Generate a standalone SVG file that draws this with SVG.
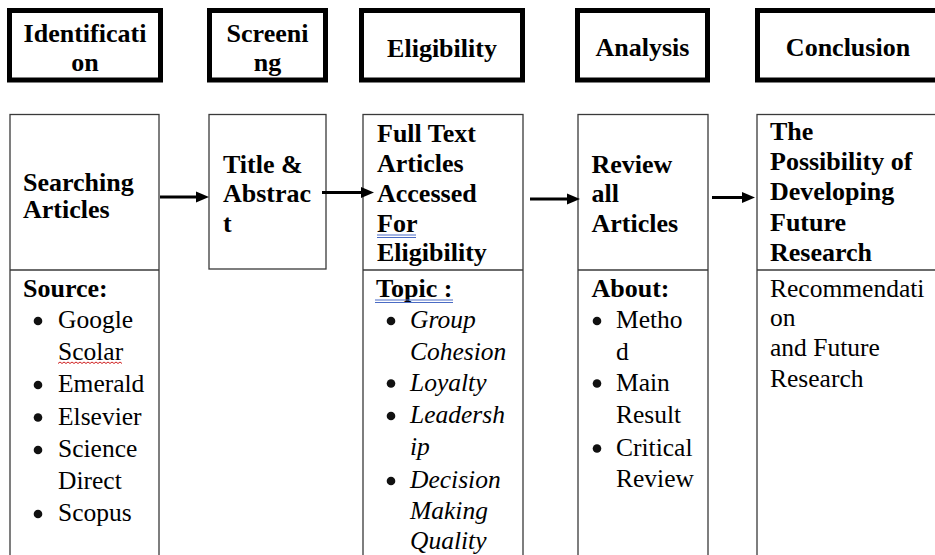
<svg xmlns="http://www.w3.org/2000/svg" width="935" height="555" viewBox="0 0 935 555">
<style>
svg text, g text, text{font-family:'Liberation Serif','Times New Roman',serif !important}
.hdr{fill:#fff;stroke:#000;stroke-width:5}
.box{fill:#fff;stroke:#3a3a3a;stroke-width:1.3}
.div{stroke:#3a3a3a;stroke-width:1.3}
.dot{fill:#111}
.arr{stroke:#000;stroke-width:3;fill:none}
.ah{fill:#000}
.blu{stroke:#4a6bc4;stroke-width:1;fill:none}
.red{stroke:#d02020;stroke-width:1;fill:none}
</style>
<rect width="935" height="555" fill="#fff"/>

<g id="h-identification">
<rect class="hdr" x="9.5" y="10.5" width="151" height="69.5"/>
<text style="font-family:'Liberation Serif',serif;font-size:26px;font-weight:bold" text-anchor="middle" x="85" y="42">Identificati</text>
<text style="font-family:'Liberation Serif',serif;font-size:26px;font-weight:bold" text-anchor="middle" x="85" y="71">on</text>
</g>
<g id="h-screening">
<rect class="hdr" x="209.5" y="10.5" width="116" height="69.5"/>
<text style="font-family:'Liberation Serif',serif;font-size:26px;font-weight:bold" text-anchor="middle" x="267.5" y="42">Screeni</text>
<text style="font-family:'Liberation Serif',serif;font-size:26px;font-weight:bold" text-anchor="middle" x="267.5" y="71">ng</text>
</g>
<g id="h-eligibility">
<rect class="hdr" x="361.5" y="10.5" width="161" height="69.5"/>
<text style="font-family:'Liberation Serif',serif;font-size:26px;font-weight:bold" text-anchor="middle" x="442" y="57">Eligibility</text>
</g>
<g id="h-analysis">
<rect class="hdr" x="577.5" y="10.5" width="130" height="69.5"/>
<text style="font-family:'Liberation Serif',serif;font-size:26px;font-weight:bold" text-anchor="middle" x="642.5" y="56">Analysis</text>
</g>
<g id="h-conclusion">
<rect class="hdr" x="757.5" y="10.5" width="190" height="69.5"/>
<text style="font-family:'Liberation Serif',serif;font-size:26px;font-weight:bold" text-anchor="middle" x="848" y="56">Conclusion</text>
</g>

<g id="n-searching">
<rect class="box" x="10" y="114.5" width="149" height="460"/>
<line class="div" x1="10" y1="270" x2="159" y2="270"/>
<text style="font-family:'Liberation Serif',serif;font-size:26px;font-weight:bold" x="23" y="191">Searching</text>
<text style="font-family:'Liberation Serif',serif;font-size:26px;font-weight:bold" x="23" y="217.5">Articles</text>
<text style="font-family:'Liberation Serif',serif;font-size:26px;font-weight:bold" x="23" y="296.5">Source:</text>
<circle class="dot" cx="38" cy="321" r="4.3"/>
<text style="font-family:'Liberation Serif',serif;font-size:25.5px" x="58" y="328">Google</text>
<text style="font-family:'Liberation Serif',serif;font-size:25.5px" x="58" y="359.5">Scolar</text>
<path class="red" d="M58,363.5 l2,-1.5 l2,1.5 l2,-1.5 l2,1.5 l2,-1.5 l2,1.5 l2,-1.5 l2,1.5 l2,-1.5 l2,1.5 l2,-1.5 l2,1.5 l2,-1.5 l2,1.5 l2,-1.5 l2,1.5 l2,-1.5 l2,1.5 l2,-1.5 l2,1.5 l2,-1.5 l2,1.5 l2,-1.5 l2,1.5 l2,-1.5 l2,1.5 l2,-1.5 l2,1.5 l2,-1.5 l2,1.5 l2,-1.5 l2,1.5"/>
<circle class="dot" cx="38" cy="385" r="4.3"/>
<text style="font-family:'Liberation Serif',serif;font-size:25.5px" x="58" y="392">Emerald</text>
<circle class="dot" cx="38" cy="417.5" r="4.3"/>
<text style="font-family:'Liberation Serif',serif;font-size:25.5px" x="58" y="424.5">Elsevier</text>
<circle class="dot" cx="38" cy="450" r="4.3"/>
<text style="font-family:'Liberation Serif',serif;font-size:25.5px" x="58" y="457">Science</text>
<text style="font-family:'Liberation Serif',serif;font-size:25.5px" x="58" y="489">Direct</text>
<circle class="dot" cx="38" cy="514" r="4.3"/>
<text style="font-family:'Liberation Serif',serif;font-size:25.5px" x="58" y="521">Scopus</text>
</g>

<g id="n-title">
<rect class="box" x="209" y="114.5" width="117" height="154.5"/>
<text style="font-family:'Liberation Serif',serif;font-size:26px;font-weight:bold" x="223" y="173">Title &amp;</text>
<text style="font-family:'Liberation Serif',serif;font-size:26px;font-weight:bold" x="223" y="202">Abstrac</text>
<text style="font-family:'Liberation Serif',serif;font-size:26px;font-weight:bold" x="223" y="231.5">t</text>
</g>

<g id="n-fulltext">
<rect class="box" x="363" y="114.5" width="160" height="460"/>
<line class="div" x1="363" y1="270" x2="523" y2="270"/>
<text style="font-family:'Liberation Serif',serif;font-size:26px;font-weight:bold" x="377" y="141.5">Full Text</text>
<text style="font-family:'Liberation Serif',serif;font-size:26px;font-weight:bold" x="377" y="171.5">Articles</text>
<text style="font-family:'Liberation Serif',serif;font-size:26px;font-weight:bold" x="377" y="201.5">Accessed</text>
<text style="font-family:'Liberation Serif',serif;font-size:26px;font-weight:bold" x="377" y="231.5">For</text>
<path class="blu" d="M377,235 H416 M377,237.5 H416"/>
<text style="font-family:'Liberation Serif',serif;font-size:26px;font-weight:bold" x="377" y="260.5">Eligibility</text>
<text style="font-family:'Liberation Serif',serif;font-size:26px;font-weight:bold" x="376" y="296.5">Topic :</text>
<path class="blu" d="M375,300 H453 M375,302.5 H453"/>
<circle class="dot" cx="391" cy="321" r="4.3"/>
<text style="font-family:'Liberation Serif',serif;font-size:25.5px;font-style:italic" x="410" y="328">Group</text>
<text style="font-family:'Liberation Serif',serif;font-size:25.5px;font-style:italic" x="410" y="360">Cohesion</text>
<circle class="dot" cx="391" cy="383.5" r="4.3"/>
<text style="font-family:'Liberation Serif',serif;font-size:25.5px;font-style:italic" x="410" y="390.5">Loyalty</text>
<circle class="dot" cx="391" cy="416" r="4.3"/>
<text style="font-family:'Liberation Serif',serif;font-size:25.5px;font-style:italic" x="410" y="423">Leadersh</text>
<text style="font-family:'Liberation Serif',serif;font-size:25.5px;font-style:italic" x="410" y="455">ip</text>
<circle class="dot" cx="391" cy="481" r="4.3"/>
<text style="font-family:'Liberation Serif',serif;font-size:25.5px;font-style:italic" x="410" y="488">Decision</text>
<text style="font-family:'Liberation Serif',serif;font-size:25.5px;font-style:italic" x="410" y="518.5">Making</text>
<text style="font-family:'Liberation Serif',serif;font-size:25.5px;font-style:italic" x="410" y="548.5">Quality</text>
</g>

<g id="n-review">
<rect class="box" x="578" y="114.5" width="130" height="460"/>
<line class="div" x1="578" y1="270" x2="708" y2="270"/>
<text style="font-family:'Liberation Serif',serif;font-size:26px;font-weight:bold" x="591.5" y="173">Review</text>
<text style="font-family:'Liberation Serif',serif;font-size:26px;font-weight:bold" x="591.5" y="202">all</text>
<text style="font-family:'Liberation Serif',serif;font-size:26px;font-weight:bold" x="591.5" y="231.5">Articles</text>
<text style="font-family:'Liberation Serif',serif;font-size:26px;font-weight:bold" x="591.5" y="296.5">About:</text>
<circle class="dot" cx="597" cy="321" r="4.3"/>
<text style="font-family:'Liberation Serif',serif;font-size:25.5px" x="616" y="328">Metho</text>
<text style="font-family:'Liberation Serif',serif;font-size:25.5px" x="616" y="360">d</text>
<circle class="dot" cx="597" cy="383.5" r="4.3"/>
<text style="font-family:'Liberation Serif',serif;font-size:25.5px" x="616" y="390.5">Main</text>
<text style="font-family:'Liberation Serif',serif;font-size:25.5px" x="616" y="423">Result</text>
<circle class="dot" cx="597" cy="448.5" r="4.3"/>
<text style="font-family:'Liberation Serif',serif;font-size:25.5px" x="616" y="455.5">Critical</text>
<text style="font-family:'Liberation Serif',serif;font-size:25.5px" x="616" y="487">Review</text>
</g>

<g id="n-possibility">
<rect class="box" x="757" y="114.5" width="190" height="460"/>
<line class="div" x1="757" y1="270" x2="947" y2="270"/>
<text style="font-family:'Liberation Serif',serif;font-size:26px;font-weight:bold" x="770" y="140">The</text>
<text style="font-family:'Liberation Serif',serif;font-size:26px;font-weight:bold" x="770" y="170">Possibility of</text>
<text style="font-family:'Liberation Serif',serif;font-size:26px;font-weight:bold" x="770" y="200">Developing</text>
<text style="font-family:'Liberation Serif',serif;font-size:26px;font-weight:bold" x="770" y="231">Future</text>
<text style="font-family:'Liberation Serif',serif;font-size:26px;font-weight:bold" x="770" y="261">Research</text>
<text style="font-family:'Liberation Serif',serif;font-size:25.5px" x="770" y="297">Recommendati</text>
<text style="font-family:'Liberation Serif',serif;font-size:25.5px" x="770" y="326">on</text>
<text style="font-family:'Liberation Serif',serif;font-size:25.5px" x="770" y="356">and Future</text>
<text style="font-family:'Liberation Serif',serif;font-size:25.5px" x="770" y="387">Research</text>
</g>

<g id="connectors">
<line class="arr" x1="160" y1="197" x2="198" y2="197"/>
<polygon class="ah" points="196,191.5 209,197 196,202.5"/>
<line class="arr" x1="322" y1="192.5" x2="363" y2="192.5"/>
<polygon class="ah" points="361,187 374,192.5 361,198"/>
<line class="arr" x1="530" y1="199" x2="569" y2="199"/>
<polygon class="ah" points="567,193.5 580,199 567,204.5"/>
<line class="arr" x1="712" y1="197.5" x2="744" y2="197.5"/>
<polygon class="ah" points="742,192 755,197.5 742,203"/>
</g>
</svg>
